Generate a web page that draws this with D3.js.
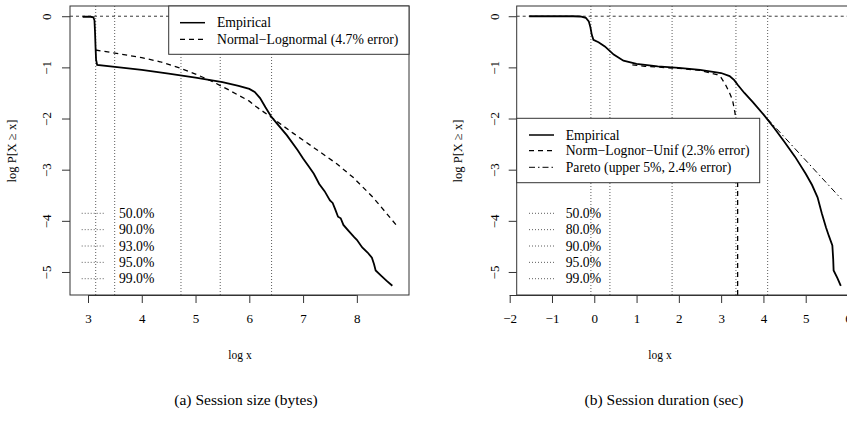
<!DOCTYPE html>
<html>
<head>
<meta charset="utf-8">
<script src="https://cdn.jsdelivr.net/npm/d3@7"></script>
<style>
  body { margin: 0; background: #fff; }
  svg text { font-family: "Liberation Serif", "Times New Roman", Times, serif; }
</style>
</head>
<body>
<div id="chart"></div>
<script>
// panel (a): session size, log10 bytes vs log10 P[X >= x]
var sizeEmpirical = [
  [2.90,-0.01],[3.05,-0.01],[3.10,-0.02],[3.12,-0.08],[3.13,-0.30],[3.14,-0.60],[3.15,-0.85],
  [3.17,-0.95],[3.50,-0.99],[4.00,-1.05],[4.50,-1.12],[5.00,-1.20],[5.50,-1.29],[5.80,-1.36],
  [6.00,-1.42],[6.10,-1.48],[6.20,-1.60],[6.30,-1.78],[6.40,-1.95],[6.50,-2.08],[6.70,-2.33],
  [6.90,-2.62],[7.00,-2.78],[7.10,-2.93],[7.20,-3.08],[7.30,-3.28],[7.40,-3.42],[7.50,-3.60],
  [7.55,-3.65],[7.60,-3.78],[7.65,-3.92],[7.70,-3.95],[7.75,-4.08],[7.85,-4.20],[7.95,-4.32],
  [8.00,-4.37],[8.10,-4.52],[8.20,-4.62],[8.28,-4.72],[8.32,-4.85],[8.35,-4.97],[8.45,-5.07],
  [8.55,-5.17],[8.66,-5.27]
];
var sizeModel = [
  [3.14,-0.66],[3.50,-0.72],[4.00,-0.81],[4.34,-0.89],[4.70,-1.01],[5.00,-1.13],[5.30,-1.27],
  [5.60,-1.43],[6.00,-1.66],[6.13,-1.77],[6.40,-1.97],[6.82,-2.29],[7.31,-2.65],[7.62,-2.88],
  [7.93,-3.15],[8.30,-3.54],[8.74,-4.09]
];
var sizePercentiles = [3.143, 3.496, 4.729, 5.459, 6.414];
var sizePctLabels = ["50.0%", "90.0%", "93.0%", "95.0%", "99.0%"];
var sizeTicks = [3, 4, 5, 6, 7, 8];

// panel (b): session duration, log10 sec
var durEmpirical = [
  [-1.54,0],[-0.50,0],[-0.33,-0.005],[-0.20,-0.03],[-0.13,-0.10],[-0.09,-0.22],[-0.06,-0.36],
  [-0.02,-0.46],[0.10,-0.51],[0.25,-0.59],[0.46,-0.75],[0.69,-0.87],[1.00,-0.93],[1.50,-0.98],
  [2.00,-1.01],[2.50,-1.05],[3.00,-1.11],[3.20,-1.17],[3.31,-1.25],[3.40,-1.35],[3.55,-1.50],
  [3.75,-1.68],[4.00,-1.92],[4.25,-2.18],[4.49,-2.45],[4.75,-2.75],[5.00,-3.08],[5.15,-3.30],
  [5.28,-3.54],[5.38,-3.85],[5.48,-4.13],[5.55,-4.30],[5.63,-4.48],[5.65,-4.75],[5.66,-4.97],
  [5.75,-5.12],[5.83,-5.27]
];
var durModel = [
  [0.90,-0.95],[1.20,-0.98],[2.00,-1.02],[2.50,-1.06],[2.90,-1.14],[3.00,-1.20],[3.11,-1.35],
  [3.20,-1.50],[3.27,-1.64],[3.33,-1.90],[3.37,-2.30],[3.39,-3.00],[3.39,-6.00]
];
var durPareto = [[4.09,-2.00],[5.85,-3.58]];
var durPercentiles = [-0.08, 0.37, 1.84, 3.35, 4.10];
var durPctLabels = ["50.0%", "80.0%", "90.0%", "95.0%", "99.0%"];
var durTicks = [-2, -1, 0, 1, 2, 3, 4, 5, 6];

var yTicks = [0, -1, -2, -3, -4, -5];

var SERIF = "'Liberation Serif', 'Times New Roman', Times, serif";
var W = 847, H = 444;
var svg = d3.select("#chart").append("svg")
  .attr("width", W).attr("height", H)
  .attr("font-family", SERIF);

var fmt = function(d){ return d < 0 ? "\u2212" + Math.abs(d) : String(d); };

function panel(opt) {
  var g = svg.append("g");
  var x = d3.scaleLinear().domain(opt.xDomain).range(opt.xRange);
  var y = d3.scaleLinear().domain([-5.45, 0.2]).range([295, 6]);
  var left = opt.box[0], right = opt.box[1];

  var clipId = "clip-" + opt.id;
  svg.append("clipPath").attr("id", clipId)
    .append("rect").attr("x", left).attr("y", 6)
    .attr("width", right - left).attr("height", 289);

  var plot = g.append("g").attr("clip-path", "url(#" + clipId + ")");

  // reference line at 0
  plot.append("line")
    .attr("x1", left).attr("x2", right)
    .attr("y1", y(0)).attr("y2", y(0))
    .attr("stroke", "#222").attr("stroke-width", 0.9)
    .attr("stroke-dasharray", "3,3");

  // percentile markers
  plot.selectAll(".pct").data(opt.pct).enter().append("line")
    .attr("x1", d => x(d)).attr("x2", d => x(d))
    .attr("y1", 6).attr("y2", 295)
    .attr("stroke", "#333").attr("stroke-width", 0.8)
    .attr("stroke-dasharray", "1,2");

  var line = d3.line().x(d => x(d[0])).y(d => y(d[1]));

  opt.series.forEach(function(s){
    plot.append("path")
      .attr("d", line(s.data))
      .attr("fill", "none")
      .attr("stroke", "#000")
      .attr("stroke-width", s.width)
      .attr("stroke-dasharray", s.dash);
  });

  // box
  g.append("rect")
    .attr("x", left).attr("y", 6)
    .attr("width", right - left).attr("height", 289)
    .attr("fill", "none").attr("stroke", "#333").attr("stroke-width", 1);

  // axes
  var xAxis = d3.axisBottom(x).tickValues(opt.xTicks).tickFormat(fmt)
    .tickSize(8).tickPadding(11);
  var ax = g.append("g").attr("transform", "translate(0,295)").call(xAxis)
    .attr("font-family", SERIF);
  ax.select(".domain").attr("d", "M" + x(opt.xTicks[0]) + ",0.5H" + x(opt.xTicks[opt.xTicks.length - 1]))
    .attr("stroke", "#333");
  ax.selectAll(".tick line").attr("stroke", "#333");
  ax.selectAll("text").attr("font-size", 13).attr("fill", "#000");

  var yAxis = d3.axisLeft(y).tickValues(yTicks).tickFormat(fmt).tickSize(8);
  var ay = g.append("g").attr("transform", "translate(" + left + ",0)").call(yAxis)
    .attr("font-family", SERIF);
  ay.select(".domain").remove();
  ay.selectAll(".tick line").attr("stroke", "#333");
  ay.selectAll(".tick text").remove();
  ay.selectAll(".tick").append("text")
    .attr("transform", "translate(" + (opt.yLabelX - left) + ",0) rotate(-90)")
    .attr("text-anchor", "middle").attr("dy", "0.35em")
    .attr("font-size", 13).attr("fill", "#000")
    .text(fmt);

  // axis titles
  g.append("text")
    .attr("x", opt.xTitleX).attr("y", 359)
    .attr("text-anchor", "middle").attr("font-size", 11.5)
    .text("log x");
  g.append("text")
    .attr("transform", "translate(" + opt.yTitleX + ",151) rotate(-90)")
    .attr("text-anchor", "middle").attr("font-size", 12.5)
    .text("log P[X \u2265 x]");

  // model legend
  var lg = opt.legend;
  g.append("rect")
    .attr("x", lg.x0).attr("y", lg.y0)
    .attr("width", lg.x1 - lg.x0).attr("height", lg.y1 - lg.y0)
    .attr("fill", "#fff").attr("stroke", "#333").attr("stroke-width", 1);
  lg.items.forEach(function(it, i){
    var cy = lg.rowY[i];
    g.append("line")
      .attr("x1", lg.sx0).attr("x2", lg.sx1).attr("y1", cy).attr("y2", cy)
      .attr("stroke", "#000").attr("stroke-width", it.width)
      .attr("stroke-dasharray", it.dash);
    g.append("text")
      .attr("x", lg.tx).attr("y", cy).attr("dy", "0.35em")
      .attr("font-size", 13.7).text(it.label);
  });

  // percentile legend
  var pl = opt.pctLegend;
  opt.pctLabels.forEach(function(t, i){
    var cy = 213.3 + i * 16.35;
    g.append("line")
      .attr("x1", pl.sx0).attr("x2", pl.sx1).attr("y1", cy).attr("y2", cy)
      .attr("stroke", "#333").attr("stroke-width", 0.8)
      .attr("stroke-dasharray", "1,2");
    g.append("text")
      .attr("x", pl.tx).attr("y", cy).attr("dy", "0.35em")
      .attr("font-size", 13.7).text(t);
  });

  // caption
  svg.append("text")
    .attr("x", opt.capX).attr("y", 405)
    .attr("text-anchor", "middle").attr("font-size", 15.5)
    .text(opt.caption);
}

panel({
  id: "a",
  xDomain: [2.665, 8.97], xRange: [70, 409], box: [70, 409],
  xTicks: sizeTicks, yLabelX: 46, yTitleX: 16, xTitleX: 240,
  pct: sizePercentiles, pctLabels: sizePctLabels,
  series: [
    { data: sizeModel, width: 1.3, dash: "5,4" },
    { data: sizeEmpirical, width: 1.8, dash: null }
  ],
  legend: {
    x0: 168.7, x1: 409, y0: 6, y1: 54.3, rowY: [22.7, 39.3],
    sx0: 180, sx1: 205, tx: 217,
    items: [
      { label: "Empirical", width: 1.5, dash: null },
      { label: "Normal\u2212Lognormal (4.7% error)", width: 1.3, dash: "5,4" }
    ]
  },
  pctLegend: { sx0: 81.7, sx1: 104, tx: 119 },
  caption: "(a) Session size (bytes)", capX: 246
});

panel({
  id: "b",
  xDomain: [-2, 6], xRange: [509.7, 848], box: [516.7, 860],
  xTicks: durTicks, yLabelX: 494, yTitleX: 462, xTitleX: 660,
  pct: durPercentiles, pctLabels: durPctLabels,
  series: [
    { data: durModel, width: 1.3, dash: "5,4" },
    { data: durPareto, width: 1.0, dash: "6,3,1.5,3" },
    { data: durEmpirical, width: 1.8, dash: null }
  ],
  legend: {
    x0: 516.7, x1: 759.7, y0: 118.3, y1: 182.7, rowY: [135, 150.7, 167.3],
    sx0: 529, sx1: 554, tx: 565.7,
    items: [
      { label: "Empirical", width: 1.5, dash: null },
      { label: "Norm\u2212Lognor\u2212Unif (2.3% error)", width: 1.3, dash: "5,4" },
      { label: "Pareto (upper 5%, 2.4% error)", width: 1.0, dash: "6,3,1.5,3" }
    ]
  },
  pctLegend: { sx0: 529, sx1: 554, tx: 565.7 },
  caption: "(b) Session duration (sec)", capX: 664
});
</script>
</body>
</html>
